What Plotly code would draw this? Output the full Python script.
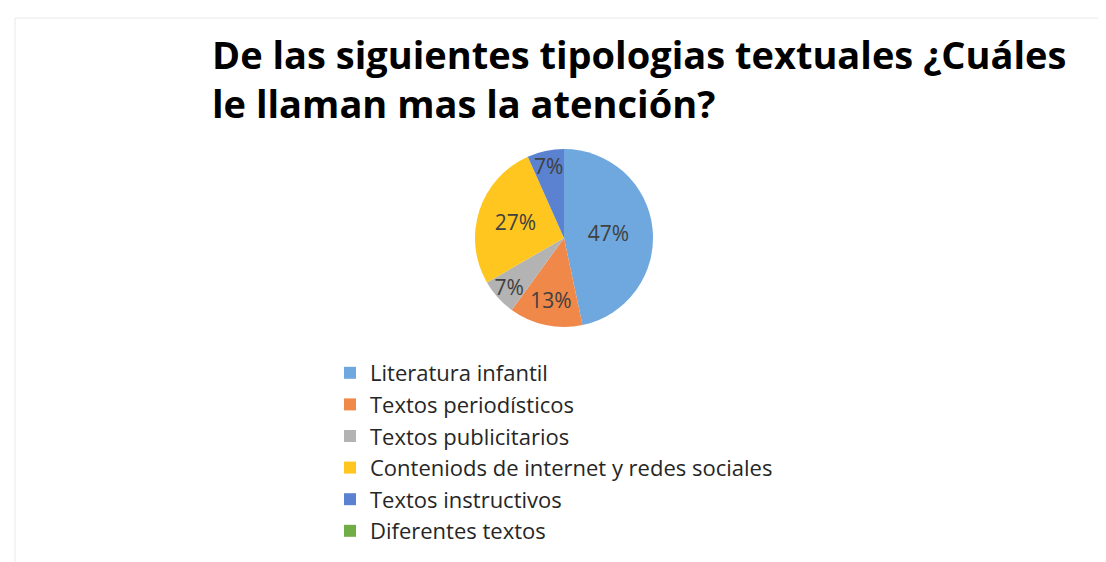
import plotly.graph_objects as go

categories = ["Literatura infantil", "Textos periodísticos", "Textos publicitarios",
              "Conteniods de internet y redes sociales", "Textos instructivos", "Diferentes textos"]
values = [7, 2, 1, 4, 1, 0]
labels_text = ["47%", "13%", "7%", "27%", "7%", ""]
colors = ["#6ea8de", "#f0884a", "#b3b3b3", "#ffc61f", "#5a82d0", "#70AD47"]

W, H = 1106, 562
cx, cy, r = 556, 230, 89

fig = go.Figure(go.Pie(
    labels=categories, values=values, text=labels_text,
    textinfo="text", textposition="inside", insidetextorientation="horizontal",
    sort=False, direction="clockwise", rotation=0,
    marker=dict(colors=colors, line=dict(width=0)),
    textfont=dict(family="Open Sans", size=21, color="#404040"),
    domain=dict(x=[(cx - r) / W, (cx + r) / W], y=[1 - (cy + r) / H, 1 - (cy - r) / H]),
    hoverinfo="label+percent",
))

fig.update_layout(
    width=W, height=H,
    margin=dict(l=0, r=0, t=0, b=0),
    paper_bgcolor="white", plot_bgcolor="white",
    uniformtext=dict(minsize=21, mode="show"),
    title=dict(text="De las siguientes tipologias textuales ¿Cuáles<br>le llaman mas la atención?",
               x=204 / W, xanchor="left", y=1 - 61 / H, yanchor="top",
               font=dict(family="Open Sans", size=38, color="#000000", weight="bold")),
    legend=dict(x=322 / W, xanchor="left", y=1 - 344 / H, yanchor="top",
                font=dict(family="Open Sans", size=22, color="#262626"),
                bgcolor="rgba(0,0,0,0)", itemclick=False),
    shapes=[
        dict(type="line", xref="paper", yref="paper", x0=7 / W, x1=1, y0=1 - 10 / H, y1=1 - 10 / H,
             line=dict(color="#e8e8e8", width=1)),
        dict(type="line", xref="paper", yref="paper", x0=7 / W, x1=7 / W, y0=0, y1=1 - 10 / H,
             line=dict(color="#e8e8e8", width=1)),
    ],
)

fig.write_html("out.html")
